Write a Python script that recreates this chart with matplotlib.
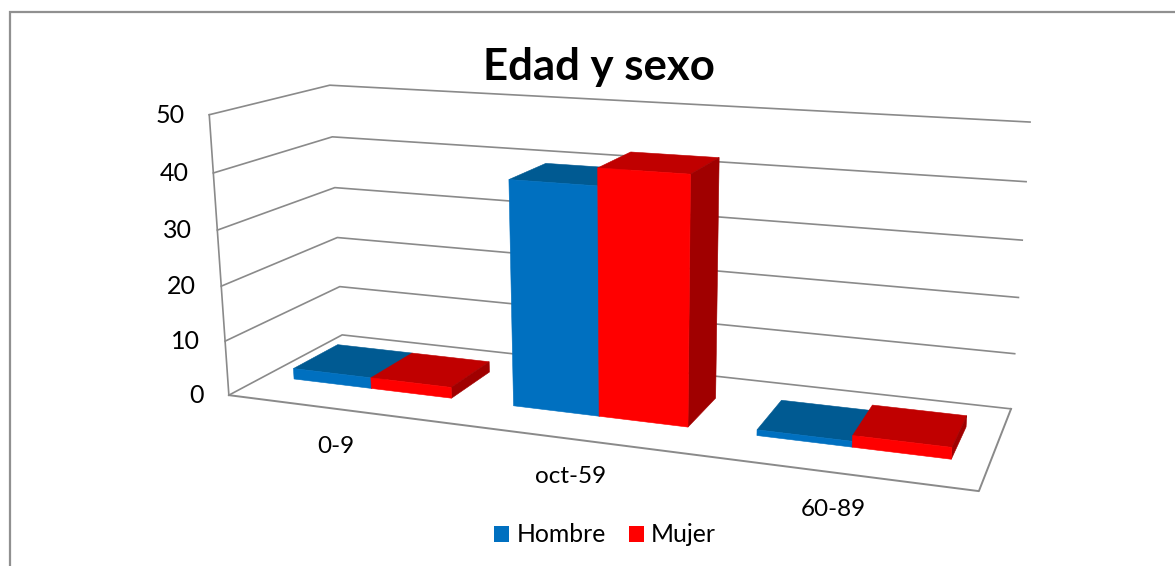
import numpy as np
import matplotlib
matplotlib.use("Agg")
import matplotlib.pyplot as plt
from matplotlib.patches import Polygon, Patch

plt.rcParams['font.family'] = ['Lato', 'DejaVu Sans']

# ---- data ----
categories = ['0-9', 'oct-59', '60-89']
series_names = ['Hombre', 'Mujer']
hombre = [2, 40, 1]
mujer = [2, 43, 2]
y_ticks = [0, 10, 20, 30, 40, 50]
title = 'Edad y sexo'

# ---- styles ----
front_colors = ['#0070C0', '#FF0000']
top_colors = ['#005A92', '#C00000']
side_colors = ['#004F80', '#A00000']
grid_color = '#8A8A8A'
border_color = '#909090'
text_color = '#000000'
W, H = 1175, 566

# camera calibration: unit box (u, v, w) -> picture pixels
box = np.array([(0, 0, 0), (1, 0, 0), (0, 1, 0), (1, 1, 0), (0, 0, 1), (0, 1, 1), (1, 1, 1)], float)
pix = np.array([(229, 395), (979, 491), (342, 335), (1011, 409), (209, 115), (330, 85), (1030, 122)], float)
A, b = [], []
for (u, v, w), (x, y) in zip(box, pix):
    A.append([u, v, w, 1, 0, 0, 0, 0, -x * u, -x * v, -x * w]); b.append(x)
    A.append([0, 0, 0, 0, u, v, w, 1, -y * u, -y * v, -y * w]); b.append(y)
P = np.append(np.linalg.lstsq(np.array(A), np.array(b), rcond=None)[0], 1).reshape(3, 4)


def proj(u, v, val):
    q = P @ np.array([u, v, val / y_ticks[-1], 1.0])
    return q[0] / q[2], q[1] / q[2]


fig = plt.figure(figsize=(W / 100, H / 100), dpi=100, facecolor='white')
ax = fig.add_axes([0, 0, 1, 1])
ax.set_xlim(0, W)
ax.set_ylim(H, 0)
ax.axis('off')

# chart frame
ax.plot([10, 10, W], [H, 12, 12], color=border_color, lw=1.6, solid_joinstyle='miter', zorder=1)

# walls and floor
for t in y_ticks:
    pts = [proj(0, 0, t), proj(0, 1, t), proj(1, 1, t)]
    ax.plot(*zip(*pts), color=grid_color, lw=1.2, zorder=2)
ax.plot(*zip(proj(0, 0, 0), proj(0, 0, y_ticks[-1])), color=grid_color, lw=1.2, zorder=2)
ax.plot(*zip(proj(1, 1, 0), proj(1, 0, 0), proj(0, 0, 0)), color=grid_color, lw=1.4, zorder=2)

# bars
n_cat, n_ser = len(categories), len(series_names)
gap = 0.75
bw = (1 / n_cat) / (n_ser + gap)
v0, v1 = 0.3, 0.7
z = 3
for c in range(n_cat):
    for s, vals in enumerate([hombre, mujer]):
        u0 = c / n_cat + bw * (gap / 2 + s)
        u1 = u0 + bw
        h = vals[c]
        faces = [
            ([(u0, v0, h), (u1, v0, h), (u1, v1, h), (u0, v1, h)], top_colors[s]),
            ([(u1, v0, 0), (u1, v1, 0), (u1, v1, h), (u1, v0, h)], side_colors[s]),
            ([(u0, v0, 0), (u1, v0, 0), (u1, v0, h), (u0, v0, h)], front_colors[s]),
        ]
        for corners, col in faces:
            ax.add_patch(Polygon([proj(*p) for p in corners], closed=True, facecolor=col,
                                 edgecolor=col, lw=0.4, zorder=z))
            z += 1

# tick labels
for t in y_ticks:
    x, y = proj(0, 0, t)
    ax.text(x - 25, y + 0.5, str(t), ha='right', va='center', fontsize=18, color=text_color)
for c, name in enumerate(categories):
    x, y = proj((c + 0.5) / n_cat, 0, 0)
    ax.text(x - 2, y + 37, name, ha='center', va='center', fontsize=17.5, color=text_color)

ax.text(599, 67, title, ha='center', va='center', fontsize=31.5, fontweight='bold', color=text_color)

handles = [Patch(facecolor=col, label=name) for col, name in zip(front_colors, series_names)]
ax.legend(handles=handles, loc='center', bbox_to_anchor=(605 / W, 1 - 535 / H), ncol=2, frameon=False,
          fontsize=17.8, handlelength=0.61, handleheight=0.61, handletextpad=0.3, columnspacing=0.93,
          borderpad=0, labelcolor=text_color)

fig.savefig('out.png', dpi=100, facecolor='white')
